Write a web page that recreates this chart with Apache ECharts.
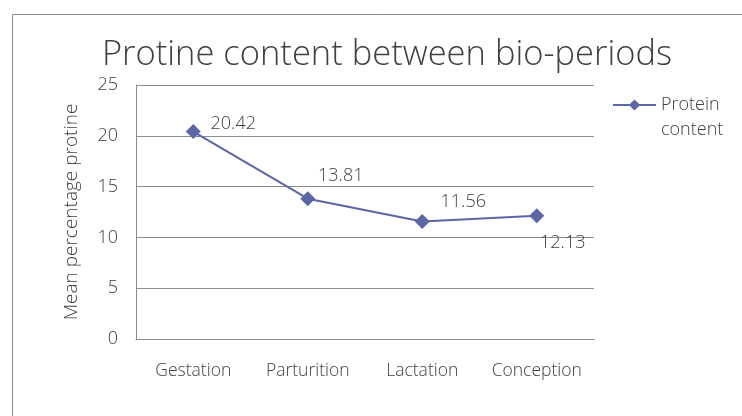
<!DOCTYPE html>
<html>
<head>
<meta charset="utf-8">
<script src="https://cdn.jsdelivr.net/npm/echarts@6/dist/echarts.min.js"></script>
<style>
html,body{margin:0;padding:0;background:#fff;}
#chart{width:742px;height:416px;}
</style>
</head>
<body>
<div id="chart"></div>
<script>
var titleText = 'Protine content between bio-periods';
var yAxisName = 'Mean percentage protine';
var seriesName = 'Protein content';
var categories = ['Gestation', 'Parturition', 'Lactation', 'Conception'];
var proteinValues = [20.42, 13.81, 11.56, 12.13];
var yTicks = { min: 0, max: 25, interval: 5 };

var labelOffsets = [[40, -8], [33, -23], [41, -20], [26, 27]];

var FONT = "'Open Sans', 'Noto Sans', sans-serif";
var TXT = '#404040';
var LINE = '#5A66A8';

var seriesData = proteinValues.map(function (v, i) {
  return { value: v, label: { offset: labelOffsets[i] } };
});

var chart = echarts.init(document.getElementById('chart'));
chart.setOption({
  animation: false,
  backgroundColor: '#fff',
  graphic: [{
    type: 'rect', left: 10, top: 12,
    shape: { width: 731, height: 420 },
    style: { fill: 'none', stroke: '#8c8c8c', lineWidth: 1 },
    silent: true
  }],
  title: {
    text: titleText, left: 382, textAlign: 'center', top: 33,
    textStyle: { fontFamily: FONT, fontWeight: 300, fontSize: 34.5, color: TXT }
  },
  legend: {
    left: 607, top: 66, padding: 5,
    itemWidth: 43, itemHeight: 14, itemGap: 4,
    data: [{ name: seriesName }],
    formatter: function () { return '{e| }\n{a|Protein}\n{a|content}'; },
    textStyle: {
      fontFamily: FONT, fontWeight: 300, fontSize: 18, color: TXT,
      rich: {
        e: { fontSize: 18, lineHeight: 25, fontFamily: FONT, fontWeight: 300, color: TXT },
        a: { fontSize: 18, lineHeight: 25, fontFamily: FONT, fontWeight: 300, color: TXT }
      }
    }
  },
  grid: { left: 136, right: 148, top: 85, bottom: 77, containLabel: false },
  xAxis: {
    type: 'category', data: categories, boundaryGap: true,
    axisLine: { show: true, lineStyle: { color: '#8c8c8c', width: 1 } },
    axisTick: { show: false },
    axisLabel: { interval: 0, hideOverlap: false, margin: 23, fontFamily: FONT, fontWeight: 300, fontSize: 17.5, color: TXT }
  },
  yAxis: {
    type: 'value', min: yTicks.min, max: yTicks.max, interval: yTicks.interval,
    name: yAxisName, nameLocation: 'middle', nameGap: 55, nameRotate: 90,
    nameTextStyle: { fontFamily: FONT, fontWeight: 300, fontSize: 19, color: TXT },
    axisLine: { show: true, lineStyle: { color: '#8c8c8c', width: 1 } },
    axisTick: { show: false },
    axisLabel: { margin: 18, fontFamily: FONT, fontWeight: 300, fontSize: 18, color: TXT },
    splitLine: { show: true, lineStyle: { color: '#8c8c8c', width: 1 } }
  },
  series: [{
    name: seriesName, type: 'line', data: seriesData,
    symbol: 'diamond', symbolSize: 15,
    lineStyle: { color: LINE, width: 2 },
    itemStyle: { color: LINE },
    label: {
      show: true, position: 'inside',
      fontFamily: FONT, fontWeight: 300, fontSize: 18, color: TXT,
      formatter: function (p) { return p.value.toFixed(2); }
    }
  }]
});
</script>
</body>
</html>
